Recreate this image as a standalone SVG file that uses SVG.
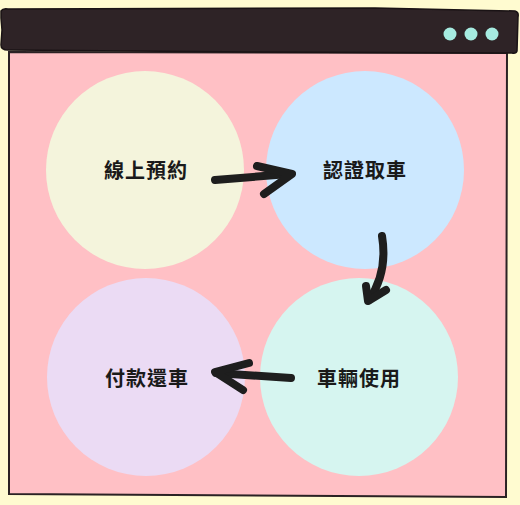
<svg xmlns="http://www.w3.org/2000/svg" width="520" height="505" viewBox="0 0 520 505">
<style>
.lbl{font-family:"Noto Sans CJK TC","Noto Sans CJK SC",sans-serif;font-weight:bold;font-size:20px;fill:#1a1a1a;text-anchor:middle;dominant-baseline:central;letter-spacing:1px}
.arr{fill:none;stroke:#1e1e1e;stroke-linecap:round;stroke-linejoin:round}
.dot{fill:#a6ebe0}
</style>
<rect width="520" height="505" fill="#fffbd0"/>
<g id="window">
<path d="M9,52 L507,53 L506,497 L9,494 Z" fill="#ffc0c5" stroke="#2b2224" stroke-width="2"/>
<path d="M1,11 Q3,8 8,9 L375,8 L515,11 Q519,12 518,17 L517,51 Q516,54 512,53 L260,52 L8,50 Q1,50 1,45 L2,30 L1,18 Z" fill="#2e2326" stroke="#1a1315" stroke-width="1.5"/>
<circle class="dot" cx="450" cy="34" r="6.5"/>
<circle class="dot" cx="471" cy="34" r="6.5"/>
<circle class="dot" cx="492" cy="34" r="6.5"/>
</g>
<g id="node-reserve">
<circle cx="145" cy="170" r="99" fill="#f4f4dc"/>
<text class="lbl" x="146" y="169">線上預約</text>
</g>
<g id="node-pickup">
<circle cx="365" cy="170" r="99" fill="#cce8ff"/>
<text class="lbl" x="365" y="169">認證取車</text>
</g>
<g id="node-use">
<circle cx="359" cy="377" r="99" fill="#d6f5f0"/>
<text class="lbl" x="359" y="377">車輛使用</text>
</g>
<g id="node-return">
<circle cx="146" cy="377" r="99" fill="#ebdbf4"/>
<text class="lbl" x="147" y="377">付款還車</text>
</g>
<g id="connectors">
<path class="arr" d="M215,180 L289,174" stroke-width="8"/>
<path class="arr" d="M257,166 L292,174 L264,194" stroke-width="8"/>
<path class="arr" d="M382,236 Q388,272 369,300" stroke-width="8"/>
<path class="arr" d="M366,286 L368,301 L386,290" stroke-width="8"/>
<path class="arr" d="M291,378 L216,373" stroke-width="8"/>
<path class="arr" d="M249,363 L215,372 L243,390" stroke-width="8"/>
</g>
</svg>
